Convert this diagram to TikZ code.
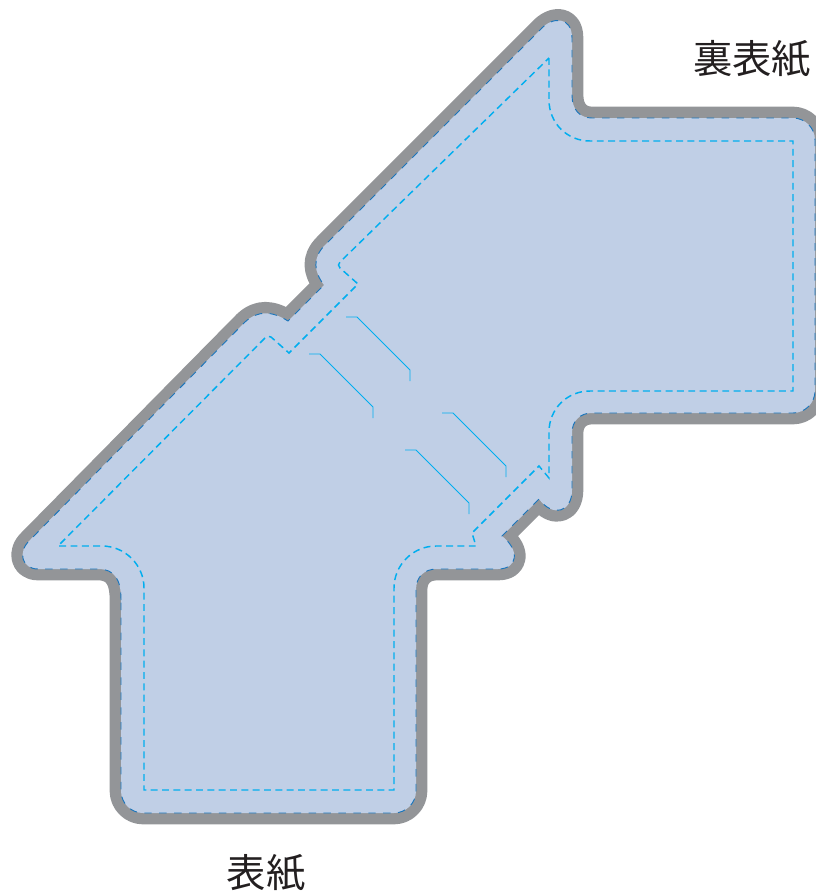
\documentclass[tikz,border=0pt]{standalone}
\usepackage{fontspec}
\newfontfamily\cjk{Noto Sans CJK JP}
\definecolor{bandgray}{HTML}{939598}
\definecolor{paneblue}{HTML}{C0CFE6}
\definecolor{trimblue}{HTML}{1B75BB}
\definecolor{safecyan}{HTML}{00AEEF}
\definecolor{inkdark}{HTML}{231F20}
\tikzset{
  trimline/.style={draw=trimblue,line width=0.7pt,dash pattern=on 5.6pt off 5.6pt},
  safeline/.style={draw=safecyan,line width=1.1pt,dash pattern=on 5.2pt off 3.3pt},
  foldline/.style={draw=safecyan,line width=0.7pt},
  caption/.style={text=inkdark,font=\cjk\fontsize{29.5}{31}\selectfont,inner sep=0pt}
}
\def\outline{
  (121,600) .. controls (121,580) and (115,569) .. (98,569)
  -- (38,569) .. controls (22,569) and (17,552) .. (30,540)
  -- (245,322) .. controls (258,310) and (272,311) .. (288,321)
  -- (324,285) .. controls (314,272) and (312,258) .. (325,245)
  -- (540,30) .. controls (552,16) and (572,16) .. (572,38)
  -- (572,95) .. controls (572,110) and (580,118) .. (592,118)
  -- (793,118) .. controls (805,118) and (815,128) .. (815,140)
  -- (815,391) .. controls (815,403) and (805,413) .. (793,413)
  -- (592,413) .. controls (580,413) and (572,421) .. (572,433)
  -- (572,490) .. controls (572,512) and (553,518) .. (539,499)
  -- (502,536) .. controls (520,550) and (518,569) .. (498,569)
  -- (437,569) .. controls (424,569) and (416,577) .. (416,590)
  -- (416,791) .. controls (416,803) and (406,813) .. (394,813)
  -- (143,813) .. controls (131,813) and (121,803) .. (121,791)
  -- cycle}
\begin{document}
\begin{tikzpicture}[x=0.75pt,y=-0.75pt]
\useasboundingbox (0,0) rectangle (816,893);
\clip (0,0) rectangle (816,893);
\draw[bandgray,line width=17pt,line join=round] \outline;
\fill[paneblue] \outline;
\draw[trimline] \outline;
\draw[safeline] (549,58) -- (549,100)
  .. controls (549,123) and (567,141) .. (590,141)
  -- (793,141) -- (793,391) -- (590,391)
  .. controls (567,391) and (549,409) .. (549,432)
  -- (549,478) -- (539,466) -- (472,533) -- (476,546) -- (436,546)
  .. controls (413,546) and (394,565) .. (394,588)
  -- (394,790) -- (144,790) -- (144,588)
  .. controls (144,565) and (125,546) .. (102,546)
  -- (58,546) -- (265,338) .. controls (267,336) and (269,336) .. (271,337)
  -- (289,353) -- (358,284) -- (340,268) .. controls (338,266) and (338,264) .. (340,262)
  -- cycle;
\draw[foldline] (346,317) -- (357,317) -- (410,370) -- (410,381);
\draw[foldline] (309,354) -- (320,354) -- (373,407) -- (373,418);
\draw[foldline] (442,413) -- (453,413) -- (506,466) -- (506,477);
\draw[foldline] (405,450) -- (416,450) -- (469,503) -- (469,514);
\node[caption] (back) at (752,59) {裏表紙};
\node[caption] (front) at (266,873) {表紙};
\end{tikzpicture}
\end{document}
